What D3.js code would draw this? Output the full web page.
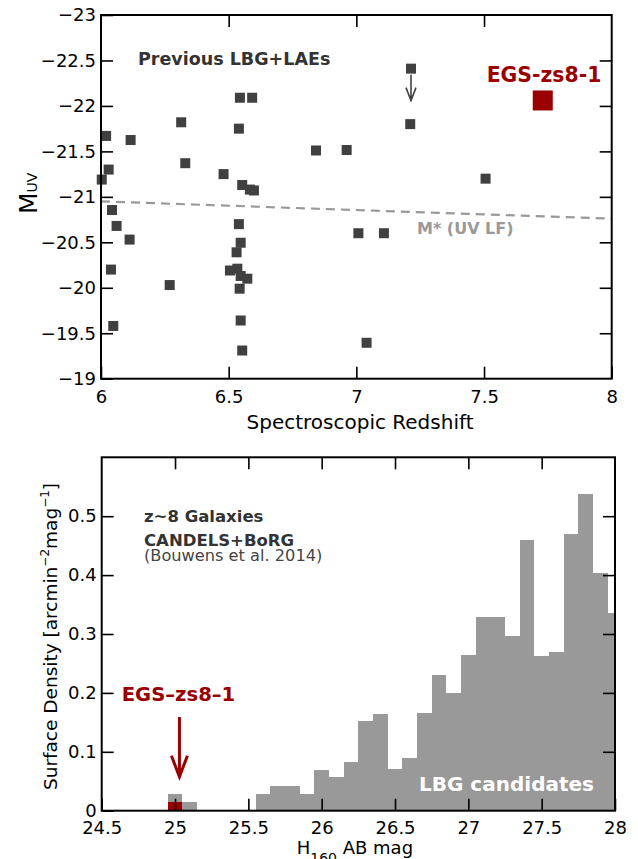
<!DOCTYPE html>
<html>
<head>
<meta charset="utf-8">
<script src="https://cdn.jsdelivr.net/npm/d3@7"></script>
<style>
  html, body { margin: 0; padding: 0; background: #fff; }
  svg { display: block; font-family: "DejaVu Sans", sans-serif; }
</style>
</head>
<body>
<script>
// ---------------- DATA ----------------
// Top panel: previous LBG + LAE spectroscopic sample
const prevZ = [6.003, 6.02, 6.03, 6.043, 6.116, 6.314, 6.33, 6.48, 6.54, 6.544, 6.592, 6.553, 6.583, 6.599,
               6.842, 6.962, 7.211, 7.506, 6.061, 6.112, 6.039, 6.048, 6.269, 6.540, 6.547, 6.531, 6.505,
               6.534, 6.547, 6.573, 6.543, 6.547, 6.553, 7.008, 7.108, 7.04];
const prevM = [-21.19, -21.67, -21.30, -20.855, -21.625, -21.82, -21.37, -21.25, -21.75, -22.09, -22.09, -21.13, -21.08, -21.07,
               -21.51, -21.515, -21.80, -21.20, -20.68, -20.53, -20.20, -19.58, -20.03, -20.70, -20.495, -20.39, -20.19,
               -20.21, -20.13, -20.10, -19.99, -19.64, -19.31, -20.60, -20.60, -19.395];
// Upper limit point
const limitZ = [7.214];
const limitM = [-22.41];
// EGS-zs8-1
const egsZ = [7.73];
const egsM = [-22.06];
// M* of the UV luminosity function
const mStarZ = [6, 8];
const mStarM = [-20.95, -20.76];

const zTicks = [6, 6.5, 7, 7.5, 8];
const zTickLabels = ["6", "6.5", "7", "7.5", "8"];
const mTicks = [-23, -22.5, -22, -21.5, -21, -20.5, -20, -19.5, -19];
const mTickLabels = ["\u221223", "\u221222.5", "\u221222", "\u221221.5", "\u221221", "\u221220.5", "\u221220", "\u221219.5", "\u221219"];

// Bottom panel: z~8 surface density histogram (bin centres, 0.1 mag bins)
const binWidth = 0.1;
const magBins = [25.0, 25.1, 25.6, 25.7, 25.8, 25.9, 26.0, 26.1, 26.2, 26.3, 26.4, 26.5, 26.6, 26.7,
                 26.8, 26.9, 27.0, 27.1, 27.2, 27.3, 27.4, 27.5, 27.6, 27.7, 27.8, 27.9, 28.0];
const density = [0.028, 0.0147, 0.028, 0.042, 0.042, 0.028, 0.069, 0.057, 0.083, 0.152, 0.164, 0.070, 0.089, 0.166,
                 0.231, 0.199, 0.264, 0.329, 0.329, 0.296, 0.460, 0.263, 0.270, 0.470, 0.538, 0.403, 0.336];
const egsBin = [25.0];
const egsDensity = [0.0142];
const egsMag = 25.03;
const egsArrow = [0.159, 0.0576];

const hTicks = [24.5, 25, 25.5, 26, 26.5, 27, 27.5, 28];
const hTickLabels = ["24.5", "25", "25.5", "26", "26.5", "27", "27.5", "28"];
const sTicks = [0, 0.1, 0.2, 0.3, 0.4, 0.5];
const sTickLabels = ["0", "0.1", "0.2", "0.3", "0.4", "0.5"];

// ---------------- STYLE ----------------
const RED = "#9a0000";
const GRAY = "#999999";
const DARK = "#404040";
const TICK_FS = 18;

const svg = d3.select("body").append("svg").attr("width", 638).attr("height", 859);

function styleAxis(g) {
  g.select(".domain").remove();
  g.selectAll(".tick line").attr("stroke", "#000").attr("stroke-width", 1.6);
  g.selectAll(".tick text").attr("fill", "#000").style("font-size", TICK_FS + "px")
    .style("font-family", "DejaVu Sans, sans-serif");
}

// ================= TOP PANEL =================
const T = { l: 101, r: 611.7, t: 15, b: 378.7 };
const xT = d3.scaleLinear().domain([6, 8]).range([T.l, T.r]);
const yT = d3.scaleLinear().domain([-19, -23]).range([T.b, T.t]);

const topG = svg.append("g");

// M* dashed line
topG.append("path")
  .datum(mStarZ.map((z, i) => [z, mStarM[i]]))
  .attr("d", d3.line().x(d => xT(d[0])).y(d => yT(d[1])))
  .attr("fill", "none").attr("stroke", GRAY).attr("stroke-width", 2.2)
  .attr("stroke-dasharray", "9,6");

topG.append("text").attr("x", 417).attr("y", 234.3)
  .attr("fill", GRAY).style("font-size", "16px").style("font-weight", "bold")
  .text("M* (UV LF)");

// previous points
topG.selectAll("rect.prev").data(prevZ.map((z, i) => [z, prevM[i]])).enter()
  .append("rect").attr("class", "prev")
  .attr("x", d => xT(d[0]) - 5).attr("y", d => yT(d[1]) - 5)
  .attr("width", 10).attr("height", 10).attr("fill", DARK);

// upper limit point + arrow
const lim = limitZ.map((z, i) => [z, limitM[i]]);
topG.selectAll("rect.lim").data(lim).enter().append("rect").attr("class", "lim")
  .attr("x", d => xT(d[0]) - 5).attr("y", d => yT(d[1]) - 5)
  .attr("width", 10).attr("height", 10).attr("fill", DARK);
topG.selectAll("path.limarrow").data(lim).enter().append("path").attr("class", "limarrow")
  .attr("d", d => {
    const x = xT(d[0]), y0 = yT(d[1]) + 6, y1 = yT(d[1]) + 32;
    return `M${x},${y0}L${x},${y1}M${x - 5},${y1 - 13}L${x},${y1}L${x + 5},${y1 - 13}`;
  })
  .attr("fill", "none").attr("stroke", DARK).attr("stroke-width", 1.6);

// EGS-zs8-1
topG.selectAll("rect.egs").data(egsZ.map((z, i) => [z, egsM[i]])).enter()
  .append("rect").attr("class", "egs")
  .attr("x", d => xT(d[0]) - 10).attr("y", d => yT(d[1]) - 10)
  .attr("width", 20).attr("height", 20).attr("fill", RED);

topG.append("text").attr("x", 486.7).attr("y", 81.7)
  .attr("fill", RED).style("font-size", "20.4px").style("font-weight", "bold")
  .text("EGS-zs8-1");

topG.append("text").attr("x", 138).attr("y", 65)
  .attr("fill", "#333").style("font-size", "17.5px").style("font-weight", "bold")
  .text("Previous LBG+LAEs");

// axes
topG.append("g").attr("transform", `translate(0,${T.b})`)
  .call(d3.axisBottom(xT).tickValues(zTicks).tickFormat((d, i) => zTickLabels[i]).tickSize(-12).tickSizeOuter(0).tickPadding(12))
  .call(styleAxis);
topG.append("g").attr("transform", `translate(0,${T.t})`)
  .call(d3.axisTop(xT).tickValues(zTicks.slice(1, -1)).tickFormat("").tickSize(-12).tickSizeOuter(0))
  .call(styleAxis);
topG.append("g").attr("transform", `translate(${T.l},0)`)
  .call(d3.axisLeft(yT).tickValues(mTicks).tickFormat((d, i) => mTickLabels[i]).tickSize(-12).tickSizeOuter(0).tickPadding(5))
  .call(styleAxis);
topG.append("g").attr("transform", `translate(${T.r},0)`)
  .call(d3.axisRight(yT).tickValues(mTicks.slice(1, -1)).tickFormat("").tickSize(-12).tickSizeOuter(0))
  .call(styleAxis);
topG.append("rect").attr("x", T.l).attr("y", T.t).attr("width", T.r - T.l).attr("height", T.b - T.t)
  .attr("fill", "none").attr("stroke", "#000").attr("stroke-width", 2);

// axis titles
topG.append("text").attr("x", 360).attr("y", 429.3).attr("text-anchor", "middle")
  .style("font-size", "20px").text("Spectroscopic Redshift");
const yl = topG.append("text").attr("transform", "translate(37,214) rotate(-90)")
  .style("font-size", "25px");
yl.append("tspan").text("M");
yl.append("tspan").style("font-size", "14px").attr("dy", 0).text("UV");

// ================= BOTTOM PANEL =================
const B = { l: 101.7, r: 615, t: 457.3, b: 810.7 };
const xB = d3.scaleLinear().domain([24.5, 28]).range([B.l, B.r]);
const yB = d3.scaleLinear().domain([0, 0.6]).range([B.b, B.t]);

const botG = svg.append("g");
botG.append("clipPath").attr("id", "clipB").append("rect")
  .attr("x", B.l).attr("y", B.t).attr("width", B.r - B.l).attr("height", B.b - B.t);

const bars = botG.append("g").attr("clip-path", "url(#clipB)");
bars.selectAll("rect.bin").data(magBins.map((m, i) => [m, density[i]])).enter()
  .append("rect").attr("class", "bin")
  .attr("x", d => xB(d[0] - binWidth / 2))
  .attr("width", d => xB(d[0] + binWidth / 2) - xB(d[0] - binWidth / 2))
  .attr("y", d => yB(d[1]))
  .attr("height", d => yB(0) - yB(d[1]))
  .attr("fill", GRAY).attr("shape-rendering", "crispEdges");
bars.selectAll("rect.egsbin").data(egsBin.map((m, i) => [m, egsDensity[i]])).enter()
  .append("rect").attr("class", "egsbin")
  .attr("x", d => xB(d[0] - binWidth / 2))
  .attr("width", d => xB(d[0] + binWidth / 2) - xB(d[0] - binWidth / 2))
  .attr("y", d => yB(d[1]))
  .attr("height", d => yB(0) - yB(d[1]))
  .attr("fill", RED).attr("shape-rendering", "crispEdges");

// red arrow
botG.append("path")
  .attr("d", () => {
    const x = xB(egsMag), y0 = yB(egsArrow[0]), y1 = yB(egsArrow[1]);
    return `M${x},${y0}L${x},${y1 - 2}M${x - 8},${y1 - 21}L${x},${y1}L${x + 8},${y1 - 21}`;
  })
  .attr("fill", "none").attr("stroke", RED).attr("stroke-width", 3);

botG.append("text").attr("x", 121.7).attr("y", 701)
  .attr("fill", RED).style("font-size", "19.6px").style("font-weight", "bold")
  .text("EGS\u2013zs8\u20131");

botG.append("text").attr("x", 419).attr("y", 790.7)
  .attr("fill", "#fff").style("font-size", "20px").style("font-weight", "bold")
  .text("LBG candidates");

botG.append("text").attr("x", 144).attr("y", 521.7)
  .attr("fill", "#333").style("font-size", "16.5px").style("font-weight", "bold")
  .text("z~8 Galaxies");
botG.append("text").attr("x", 144).attr("y", 546)
  .attr("fill", "#333").style("font-size", "16.5px").style("font-weight", "bold")
  .text("CANDELS+BoRG");
botG.append("text").attr("x", 144).attr("y", 561.2)
  .attr("fill", "#444").style("font-size", "16.2px")
  .text("(Bouwens et al. 2014)");

// axes
botG.append("g").attr("transform", `translate(0,${B.b})`)
  .call(d3.axisBottom(xB).tickValues(hTicks).tickFormat((d, i) => hTickLabels[i]).tickSize(-12).tickSizeOuter(0).tickPadding(11))
  .call(styleAxis);
botG.append("g").attr("transform", `translate(0,${B.t})`)
  .call(d3.axisTop(xB).tickValues(hTicks.slice(1, -1)).tickFormat("").tickSize(-12).tickSizeOuter(0))
  .call(styleAxis);
botG.append("g").attr("transform", `translate(${B.l},0)`)
  .call(d3.axisLeft(yB).tickValues(sTicks).tickFormat((d, i) => sTickLabels[i]).tickSize(-12).tickSizeOuter(0).tickPadding(5))
  .call(styleAxis);
botG.append("g").attr("transform", `translate(${B.r},0)`)
  .call(d3.axisRight(yB).tickValues(sTicks.slice(1)).tickFormat("").tickSize(-12).tickSizeOuter(0))
  .call(styleAxis);
botG.append("rect").attr("x", B.l).attr("y", B.t).attr("width", B.r - B.l).attr("height", B.b - B.t)
  .attr("fill", "none").attr("stroke", "#000").attr("stroke-width", 2);

// axis titles
const xl = botG.append("text").attr("x", 296.7).attr("y", 854.3).style("font-size", "18px");
xl.append("tspan").text("H");
xl.append("tspan").style("font-size", "14px").attr("dy", 9).text("160");
xl.append("tspan").attr("dy", -9).text(" AB mag");

const yl2 = botG.append("text").attr("transform", "translate(56.7,636.5) rotate(-90)")
  .attr("text-anchor", "middle").style("font-size", "18.5px");
yl2.append("tspan").text("Surface Density [arcmin");
yl2.append("tspan").style("font-size", "12px").attr("dy", -8).text("\u22122");
yl2.append("tspan").attr("dy", 8).text("mag");
yl2.append("tspan").style("font-size", "12px").attr("dy", -8).text("\u22121");
yl2.append("tspan").attr("dy", 8).text("]");
</script>
</body>
</html>
